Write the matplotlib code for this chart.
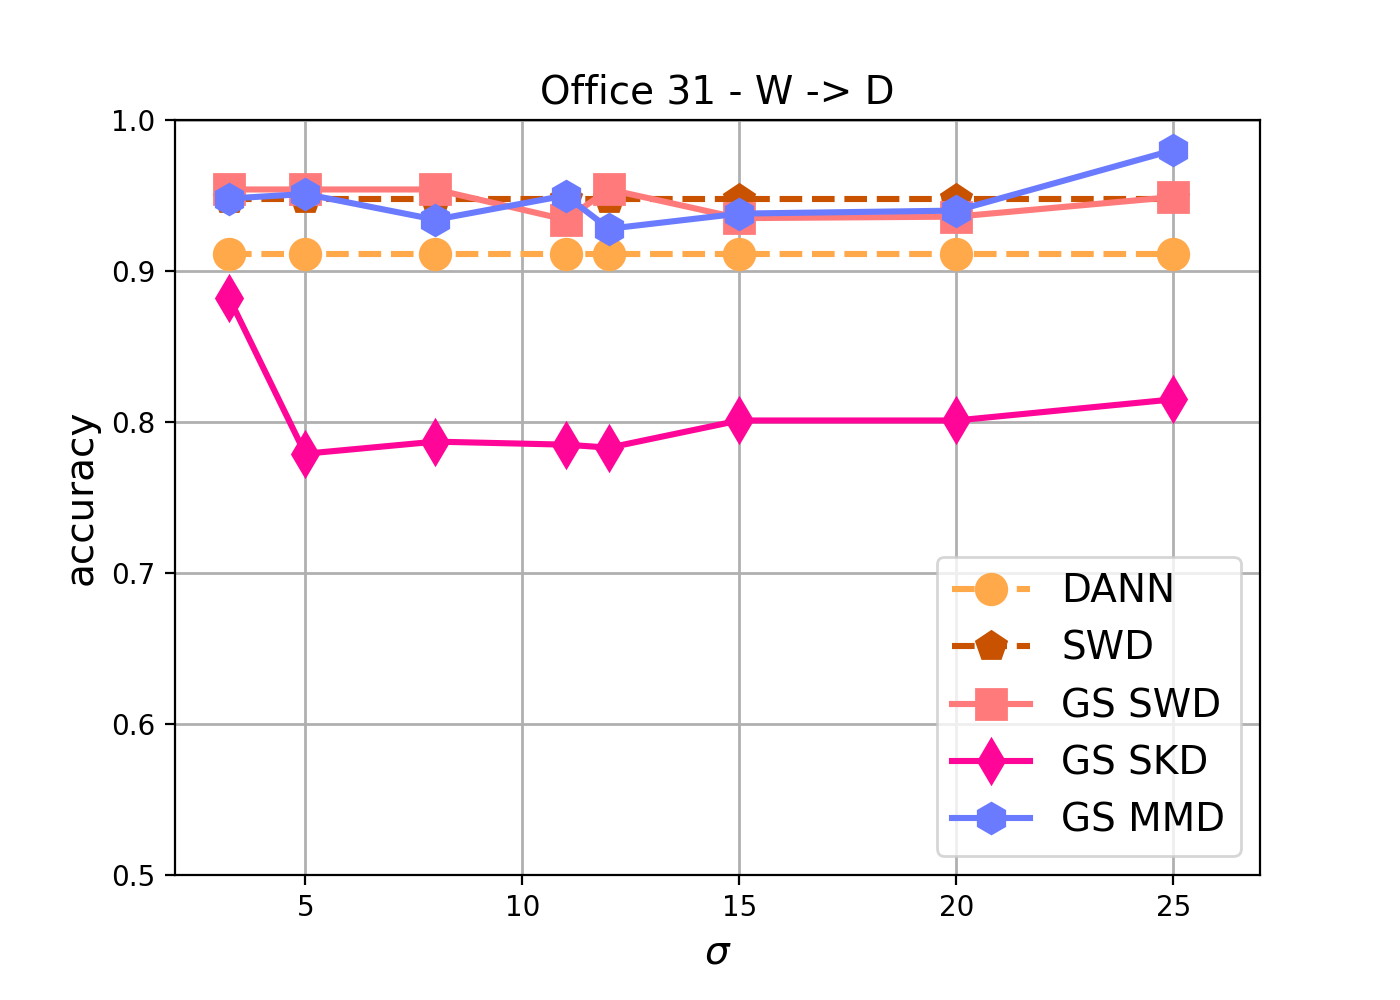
import matplotlib
matplotlib.use("Agg")
import matplotlib.pyplot as plt

sigma = [3.25, 5, 8, 11, 12, 15, 20, 25]
dann = [0.911, 0.911, 0.911, 0.911, 0.911, 0.911, 0.911, 0.911]
swd = [0.948, 0.948, 0.948, 0.948, 0.948, 0.948, 0.948, 0.948]
gs_swd = [0.954, 0.954, 0.954, 0.934, 0.954, 0.935, 0.936, 0.949]
gs_skd = [0.882, 0.779, 0.787, 0.785, 0.783, 0.801, 0.801, 0.815]
gs_mmd = [0.948, 0.951, 0.934, 0.950, 0.928, 0.938, 0.940, 0.980]

fig, ax = plt.subplots(figsize=(7, 5), dpi=200)
fig.subplots_adjust(left=0.125, right=0.9, top=0.88, bottom=0.125)

ms = 11
lw = 2.2
ax.plot(sigma, dann, '--', marker='o', color='#FFA94A', lw=lw, ms=ms, label='DANN')
ax.plot(sigma, swd, '--', marker='p', color='#C85200', lw=lw, ms=ms, label='SWD')
ax.plot(sigma, gs_swd, '-', marker='s', color='#FF7B7B', lw=lw, ms=ms, label='GS SWD')
ax.plot(sigma, gs_skd, '-', marker='d', color='#FF0598', lw=lw, ms=ms, label='GS SKD')
ax.plot(sigma, gs_mmd, '-', marker='h', color='#6B7BFF', lw=lw, ms=ms, label='GS MMD')

ax.set_xlim(2, 27)
ax.set_ylim(0.5, 1.0)
ax.set_xticks([5, 10, 15, 20, 25])
ax.grid(True, color='#b0b0b0', lw=1)
ax.set_title('Office 31 - W -> D', fontsize=14)
ax.set_xlabel(r'$\sigma$', fontsize=14)
ax.set_ylabel('accuracy', fontsize=14)
ax.legend(loc='lower right', fontsize=14)

fig.savefig('out.png', dpi=200)
